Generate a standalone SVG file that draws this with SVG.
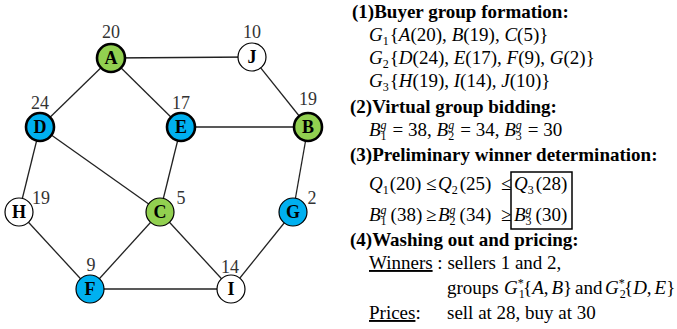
<svg xmlns="http://www.w3.org/2000/svg" width="677" height="329" viewBox="0 0 677 329">
<style>
.edge{stroke:#222;stroke-width:1.3;fill:none}
.n{stroke:#000}
.thick{stroke-width:2.6}
.thin{stroke-width:1.2}
.green{fill:#92d050}
.blue{fill:#00b0f0}
.white{fill:#fff}
text{font-family:'Liberation Serif','Times New Roman',Times,serif}
.lbl{font-weight:bold;font-size:18px;text-anchor:middle;fill:#000}
.num{font-size:18px;text-anchor:middle;fill:#333}
.t{font-size:19px;fill:#000}
.h{font-weight:bold}
.i{font-style:italic}
.s{font-size:12px}
</style>
<rect width="677" height="329" fill="#fff"/>
<g id="connectors">
<line class="edge" x1="111" y1="58" x2="252" y2="57"/>
<line class="edge" x1="111" y1="58" x2="40" y2="127"/>
<line class="edge" x1="111" y1="58" x2="181" y2="127"/>
<line class="edge" x1="252" y1="57" x2="308" y2="127"/>
<line class="edge" x1="181" y1="127" x2="308" y2="127"/>
<line class="edge" x1="40" y1="127" x2="19" y2="212"/>
<line class="edge" x1="40" y1="127" x2="160" y2="212"/>
<line class="edge" x1="181" y1="127" x2="160" y2="212"/>
<line class="edge" x1="308" y1="127" x2="293" y2="212"/>
<line class="edge" x1="19" y1="212" x2="90" y2="289"/>
<line class="edge" x1="160" y1="212" x2="90" y2="289"/>
<line class="edge" x1="160" y1="212" x2="231" y2="289"/>
<line class="edge" x1="293" y1="212" x2="231" y2="289"/>
<line class="edge" x1="90" y1="289" x2="231" y2="289"/>
</g>
<g id="node-A"><circle class="n thick green" cx="111" cy="58" r="14"/><text class="lbl" x="111" y="64">A</text><text class="num" x="111" y="38">20</text></g>
<g id="node-J"><circle class="n thin white" cx="252" cy="57" r="14"/><text class="lbl" x="252" y="63">J</text><text class="num" x="252" y="38">10</text></g>
<g id="node-D"><circle class="n thick blue" cx="40" cy="127" r="14"/><text class="lbl" x="40" y="133">D</text><text class="num" x="40" y="109">24</text></g>
<g id="node-E"><circle class="n thick blue" cx="181" cy="127" r="14"/><text class="lbl" x="181" y="133">E</text><text class="num" x="181" y="109">17</text></g>
<g id="node-B"><circle class="n thick green" cx="308" cy="127" r="14"/><text class="lbl" x="308" y="133">B</text><text class="num" x="308" y="105">19</text></g>
<g id="node-H"><circle class="n thin white" cx="19" cy="212" r="14"/><text class="lbl" x="19" y="218">H</text><text class="num" x="41" y="204">19</text></g>
<g id="node-C"><circle class="n thin green" cx="160" cy="212" r="14"/><text class="lbl" x="160" y="218">C</text><text class="num" x="181" y="204">5</text></g>
<g id="node-G"><circle class="n thin blue" cx="293" cy="212" r="14"/><text class="lbl" x="293" y="218">G</text><text class="num" x="312" y="204">2</text></g>
<g id="node-F"><circle class="n thin blue" cx="90" cy="289" r="14"/><text class="lbl" x="90" y="295">F</text><text class="num" x="91" y="271">9</text></g>
<g id="node-I"><circle class="n thin white" cx="231" cy="289" r="14"/><text class="lbl" x="231" y="295">I</text><text class="num" x="230" y="273">14</text></g>
<g id="text">
<text class="t h" x="352" y="18">(1)Buyer group formation:</text>
<text class="t" x="369" y="41"><tspan class="i">G</tspan><tspan class="s" dy="4">1</tspan><tspan dx="1" dy="-4">{</tspan><tspan class="i">A</tspan>(20), <tspan class="i">B</tspan>(19), <tspan class="i">C</tspan>(5)}</text>
<text class="t" x="369" y="64"><tspan class="i">G</tspan><tspan class="s" dy="4">2</tspan><tspan dx="1" dy="-4">{</tspan><tspan class="i">D</tspan>(24), <tspan class="i">E</tspan>(17), <tspan class="i">F</tspan>(9), <tspan class="i">G</tspan>(2)}</text>
<text class="t" x="369" y="87"><tspan class="i">G</tspan><tspan class="s" dy="4">3</tspan><tspan dx="1" dy="-4">{</tspan><tspan class="i">H</tspan>(19), <tspan class="i">I</tspan>(14), <tspan class="i">J</tspan>(10)}</text>
<text class="t h" x="350" y="113">(2)Virtual group bidding:</text>
<text class="t" x="369" y="136"><tspan class="i">B</tspan><tspan class="i s" dy="-7">g</tspan><tspan class="s" dx="-6" dy="11">1</tspan><tspan dx="6" dy="-4">= 38, </tspan><tspan class="i">B</tspan><tspan class="i s" dy="-7">g</tspan><tspan class="s" dx="-6" dy="11">2</tspan><tspan dx="6" dy="-4">= 34, </tspan><tspan class="i">B</tspan><tspan class="i s" dy="-7">g</tspan><tspan class="s" dx="-6" dy="11">3</tspan><tspan dx="6" dy="-4">= 30</tspan></text>
<text class="t h" x="350" y="161">(3)Preliminary winner determination:</text>
<text class="t" x="369" y="190"><tspan class="i">Q</tspan><tspan class="s" dy="4">1</tspan><tspan dx="1" dy="-4">(20)</tspan><tspan x="426">≤</tspan><tspan class="i" x="438">Q</tspan><tspan class="s" dy="4">2</tspan><tspan dx="2" dy="-4">(25)</tspan><tspan x="501">≤</tspan><tspan class="i" x="514">Q</tspan><tspan class="s" dy="4">3</tspan><tspan dx="2" dy="-4">(28)</tspan></text>
<text class="t" x="369" y="221"><tspan class="i">B</tspan><tspan class="i s" dy="-7">g</tspan><tspan class="s" dx="-6" dy="11">1</tspan><tspan dx="4" dy="-4">(38)</tspan><tspan x="426">≥</tspan><tspan class="i" x="438">B</tspan><tspan class="i s" dy="-7">g</tspan><tspan class="s" dx="-6" dy="11">2</tspan><tspan dx="4" dy="-4">(34)</tspan><tspan x="501">≥</tspan><tspan class="i" x="514">B</tspan><tspan class="i s" dy="-7">g</tspan><tspan class="s" dx="-6" dy="11">3</tspan><tspan dx="4" dy="-4">(30)</tspan></text>
<rect x="511" y="172" width="61" height="57" fill="none" stroke="#000" stroke-width="1.5"/>
<text class="t h" x="350" y="246">(4)Washing out and pricing:</text>
<text class="t" x="369" y="269"><tspan text-decoration="underline">Winners</tspan> : sellers 1 and 2,</text>
<text class="t" x="447" y="294">groups<tspan class="i" x="504">G</tspan><tspan class="s" dy="-7">*</tspan><tspan class="s" dx="-5" dy="11">1</tspan><tspan x="523" dy="-4">{</tspan><tspan class="i">A</tspan>,<tspan class="i" dx="3">B</tspan>}<tspan x="575">and</tspan><tspan class="i" x="605">G</tspan><tspan class="s" dy="-7">*</tspan><tspan class="s" dx="-5" dy="11">2</tspan><tspan x="624" dy="-4">{</tspan><tspan class="i">D</tspan>,<tspan class="i" dx="3">E</tspan>}</text>
<text class="t" x="369" y="319"><tspan text-decoration="underline">Prices</tspan>:<tspan x="447">sell at 28, buy at 30</tspan></text>
</g>
</svg>
